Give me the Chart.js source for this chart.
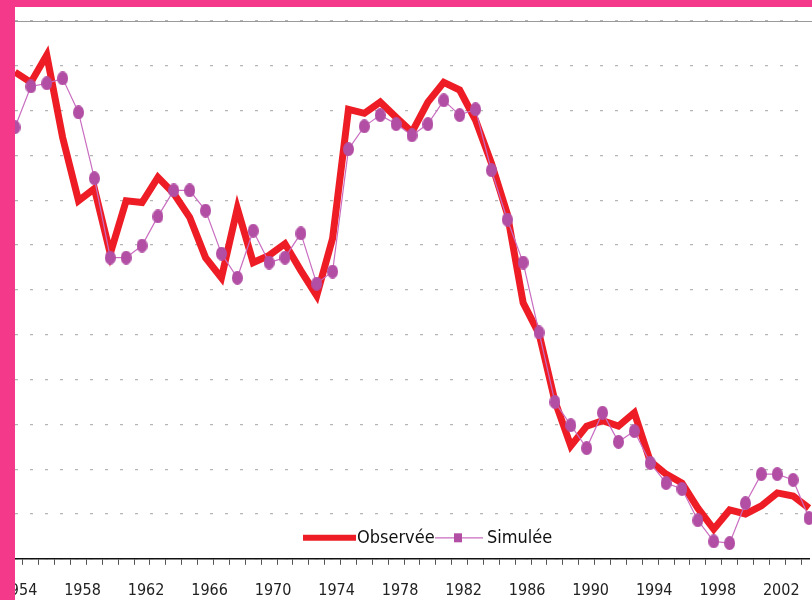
<!DOCTYPE html>
<html>
<head>
<meta charset="utf-8">
<script src="https://cdn.jsdelivr.net/npm/chart.js@4.4.1/dist/chart.umd.min.js"></script>
<style>
  html, body { margin: 0; padding: 0; background: #fff; }
  #page { position: relative; width: 812px; height: 600px; overflow: hidden; background: #fff; }
  #holder { position: absolute; left: -25px; top: 0; width: 850px; height: 616px; }
  .cadre { position: absolute; background: #f4398b; z-index: 5; }
</style>
</head>
<body>
<div id="page">
  <div id="holder"><canvas id="graphique"></canvas></div>
  <div class="cadre" style="left:0;top:0;width:812px;height:7px"></div>
  <div class="cadre" style="left:0;top:0;width:15px;height:600px"></div>
</div>
<script>
// années (axe des x)
const ANNEES = ['1954','1955','1956','1957','1958','1959','1960','1961','1962','1963',
  '1964','1965','1966','1967','1968','1969','1970','1971','1972','1973',
  '1974','1975','1976','1977','1978','1979','1980','1981','1982','1983',
  '1984','1985','1986','1987','1988','1989','1990','1991','1992','1993',
  '1994','1995','1996','1997','1998','1999','2000','2001','2002','2003','2004'];

// étiquettes affichées sous l'axe
const ETIQUETTES = ['1954','1958','1962','1966','1970','1974','1978','1982','1986','1990','1994','1998','2002'];

// valeurs (1 unité = 1 ligne de grille)
const OBSERVEE = [10.86, 10.63, 11.24, 9.40, 7.99, 8.26, 6.81, 7.99, 7.95, 8.51,
  8.15, 7.62, 6.72, 6.27, 7.82, 6.61, 6.77, 7.03, 6.43, 5.87,
  7.15, 10.03, 9.94, 10.19, 9.85, 9.52, 10.19, 10.63, 10.46, 9.79,
  8.83, 7.70, 5.71, 5.02, 3.52, 2.52, 2.96, 3.08, 2.96, 3.26,
  2.18, 1.89, 1.69, 1.13, 0.66, 1.09, 1.00, 1.18, 1.47, 1.40, 1.13];

const SIMULEE = [9.63, 10.54, 10.61, 10.72, 9.96, 8.49, 6.72, 6.72, 6.99, 7.64,
  8.22, 8.22, 7.77, 6.81, 6.27, 7.32, 6.61, 6.72, 7.26, 6.14,
  6.41, 9.14, 9.65, 9.90, 9.70, 9.45, 9.70, 10.23, 9.90, 10.03,
  8.67, 7.57, 6.61, 5.05, 3.50, 2.98, 2.47, 3.26, 2.61, 2.85,
  2.14, 1.69, 1.56, 0.86, 0.39, 0.35, 1.24, 1.89, 1.89, 1.76, 0.91];

const ROUGE = '#ee1c25';
const VIOLET = '#b24fa5';
const VIOLET_LIGNE = '#c96cc0';
const POLICE = "'DejaVu Sans Condensed', 'Liberation Sans Narrow', sans-serif";

Chart.defaults.font.family = POLICE;
Chart.defaults.color = '#222';

// marqueur ovale pour la série simulée
function marqueur(w, h, couleur) {
    const c = document.createElement('canvas');
    c.width = w; c.height = h;
    const g = c.getContext('2d');
    g.fillStyle = couleur;
    g.beginPath();
    g.ellipse(w / 2, h / 2, w / 2, h / 2, 0, 0, Math.PI * 2);
    g.fill();
    return c;
}

// ligne du haut + légende dessinée dans la zone du graphique
const decor = {
    id: 'decor',
    afterDraw(chart) {
        const ctx = chart.ctx;
        const ca = chart.chartArea;
        ctx.save();

        ctx.strokeStyle = '#9a9a9a';
        ctx.lineWidth = 1.2;
        ctx.beginPath();
        ctx.moveTo(ca.left - 20, ca.top + 0.5);
        ctx.lineTo(ca.right + 20, ca.top + 0.5);
        ctx.stroke();

        const y = ca.bottom - 21;
        const x0 = ca.left;

        ctx.strokeStyle = ROUGE;
        ctx.lineWidth = 6;
        ctx.beginPath();
        ctx.moveTo(x0 + 288, y);
        ctx.lineTo(x0 + 341, y);
        ctx.stroke();

        ctx.fillStyle = '#111';
        ctx.font = '18px ' + POLICE;
        ctx.textBaseline = 'middle';
        ctx.fillText('Observée', x0 + 342, y + 1);

        ctx.strokeStyle = VIOLET_LIGNE;
        ctx.lineWidth = 1.3;
        ctx.beginPath();
        ctx.moveTo(x0 + 420, y);
        ctx.lineTo(x0 + 468, y);
        ctx.stroke();
        ctx.fillStyle = VIOLET;
        ctx.fillRect(x0 + 439, y - 4.5, 8, 9);

        ctx.fillStyle = '#111';
        ctx.fillText('Simulée', x0 + 472, y + 1);

        ctx.restore();
    }
};

new Chart(document.getElementById('graphique'), {
    type: 'line',
    data: {
        labels: ANNEES,
        datasets: [
            {
                label: 'Observée',
                data: OBSERVEE,
                borderColor: ROUGE,
                borderWidth: 7,
                borderJoinStyle: 'miter',
                pointRadius: 0,
                tension: 0,
                clip: false,
                order: 2
            },
            {
                label: 'Simulée',
                data: SIMULEE,
                borderColor: VIOLET_LIGNE,
                borderWidth: 1.2,
                pointStyle: marqueur(11, 14, VIOLET),
                pointRadius: 6,
                tension: 0,
                clip: false,
                order: 1
            }
        ]
    },
    options: {
        responsive: true,
        maintainAspectRatio: false,
        animation: false,
        layout: { padding: { left: 40, right: 0, top: 21, bottom: 0 } },
        plugins: {
            legend: { display: false },
            tooltip: { enabled: false }
        },
        scales: {
            x: {
                offset: false,
                grid: {
                    drawOnChartArea: false,
                    drawTicks: true,
                    offset: true,
                    tickLength: 6,
                    tickColor: '#555'
                },
                border: { display: true, color: '#111', width: 1.5 },
                ticks: {
                    autoSkip: false,
                    maxRotation: 0,
                    padding: 16,
                    labelOffset: 4,
                    color: '#222',
                    font: { size: 16 },
                    callback: function (v, i) {
                        const a = ANNEES[i];
                        return ETIQUETTES.includes(a) ? a : '';
                    }
                }
            },
            y: {
                min: 0,
                max: 12,
                ticks: { display: false, stepSize: 1 },
                grid: { color: '#b5b5b5', lineWidth: 1.2, drawTicks: false },
                border: { display: false, dash: [3, 12] }
            }
        }
    },
    plugins: [decor]
});
</script>
</body>
</html>
